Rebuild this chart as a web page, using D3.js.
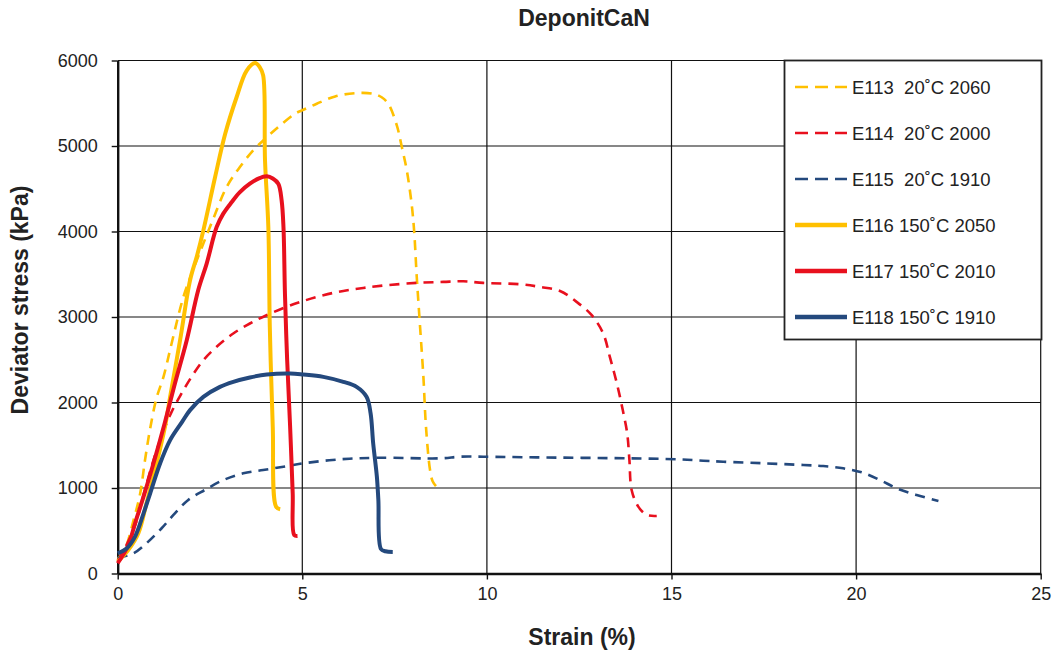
<!DOCTYPE html>
<html>
<head>
<meta charset="utf-8">
<script src="https://cdn.jsdelivr.net/npm/d3@7"></script>
<style>
  body { margin: 0; background: #fff; }
  text { font-family: "Liberation Sans", Arial, sans-serif; fill: #222; }
  .row text { white-space: pre; }
</style>
</head>
<body>
<div class="chart"></div>
<script>
// strain (%) / deviator stress (kPa)
const e113 = [[0,170],[0.2,290],[0.43,626],[0.61,938],[0.74,1327],[0.88,1697],[1.05,2050],[1.24,2300],[1.46,2690],[1.78,3235],[2.05,3560],[2.32,3859],[2.59,4150],[2.95,4520],[3.31,4754],[3.67,4949],[4.04,5104],[4.40,5241],[4.80,5377],[5.03,5424],[5.39,5494],[5.89,5580],[6.43,5618],[6.92,5611],[7.15,5570],[7.33,5494],[7.56,5241],[7.69,5000],[7.83,4715],[7.96,4326],[8.03,4002],[8.10,3469],[8.19,2884],[8.28,2300],[8.35,1716],[8.46,1210],[8.53,1080],[8.62,1023]];
const e114 = [[0,150],[0.2,300],[0.47,560],[0.70,920],[0.97,1327],[1.2,1620],[1.46,1891],[1.73,2106],[2.0,2300],[2.32,2495],[2.68,2651],[3.13,2807],[3.58,2924],[4.03,3021],[4.57,3118],[5.03,3188],[5.57,3255],[6.11,3305],[6.65,3340],[7.29,3372],[8.10,3399],[8.82,3411],[9.36,3418],[9.90,3399],[10.9,3383],[11.44,3352],[11.98,3305],[12.43,3177],[12.84,3021],[13.15,2807],[13.33,2534],[13.52,2223],[13.68,1911],[13.80,1639],[13.86,1327],[13.92,977],[14.1,782],[14.33,685],[14.6,673]];
const e115 = [[0,180],[0.43,237],[0.78,354],[1.19,529],[1.51,685],[1.91,860],[2.36,977],[2.86,1093],[3.40,1172],[3.94,1210],[4.49,1249],[5.03,1289],[6.02,1335],[7.1,1354],[8.74,1347],[9.27,1366],[9.9,1366],[11.35,1358],[13.79,1347],[15.23,1335],[15.86,1319],[16.40,1307],[17.49,1289],[18.57,1269],[19.11,1257],[19.65,1230],[20.15,1183],[20.65,1093],[21.10,996],[21.64,918],[22.23,848]];
const e116 = [[0,139],[0.29,276],[0.56,471],[0.78,821],[1.01,1210],[1.28,1716],[1.42,2067],[1.69,2729],[1.96,3430],[2.15,3720],[2.32,4013],[2.64,4640],[2.91,5140],[3.22,5570],[3.49,5880],[3.72,5970],[3.85,5920],[3.94,5825],[3.99,4832],[4.08,4052],[4.12,2884],[4.20,1716],[4.29,782],[4.40,751]];
const e117 = [[0,120],[0.29,334],[0.47,588],[0.70,899],[0.97,1289],[1.28,1770],[1.55,2223],[1.87,2729],[2.18,3313],[2.41,3625],[2.68,4052],[2.86,4209],[3.09,4345],[3.31,4461],[3.58,4559],[3.81,4618],[4.04,4645],[4.2,4620],[4.35,4559],[4.44,4364],[4.49,4052],[4.53,3275],[4.59,2495],[4.67,1716],[4.74,938],[4.78,451],[4.87,439]];
const e118 = [[0,237],[0.25,296],[0.47,431],[0.70,704],[0.88,938],[1.15,1289],[1.42,1560],[1.74,1770],[1.96,1911],[2.32,2066],[2.77,2183],[3.13,2242],[3.58,2293],[4.04,2328],[4.67,2340],[5.03,2328],[5.57,2300],[6.11,2242],[6.47,2183],[6.74,2067],[6.85,1873],[6.92,1522],[7.02,1132],[7.06,860],[7.13,287],[7.25,260],[7.45,252]];

const seriesNames = ["E113  20˚C 2060", "E114  20˚C 2000", "E115  20˚C 1910", "E116 150˚C 2050", "E117 150˚C 2010", "E118 150˚C 1910"];
const seriesData = [e113, e114, e115, e116, e117, e118];
const seriesColors = ["#FFC000", "#E8101E", "#24497D", "#FFC000", "#E8101E", "#24497D"];
const seriesDashed = [true, true, true, false, false, false];

const xTicks = [0, 5, 10, 15, 20, 25];
const yTicks = [0, 1000, 2000, 3000, 4000, 5000, 6000];

const title = "DeponitCaN";
const xTitle = "Strain (%)";
const yTitle = "Deviator stress (kPa)";

const svgWidth = 1054, svgHeight = 655;
const plotLeft = 117.7, plotRight = 1040.7, plotTop = 60.5, plotBottom = 573.5;

const x = d3.scaleLinear().domain([0, 25]).range([plotLeft, plotRight]);
const y = d3.scaleLinear().domain([0, 6000]).range([plotBottom, plotTop]);

let svg = d3.select(".chart").append("svg")
    .attr("width", svgWidth)
    .attr("height", svgHeight);

// gridlines
svg.append("g")
    .selectAll("line")
    .data(yTicks.slice(1))
    .join("line")
    .attr("x1", plotLeft).attr("x2", plotRight)
    .attr("y1", d => y(d)).attr("y2", d => y(d))
    .attr("stroke", "#111").attr("stroke-width", 1.2);
svg.append("g")
    .selectAll("line")
    .data(xTicks.slice(1))
    .join("line")
    .attr("x1", d => x(d)).attr("x2", d => x(d))
    .attr("y1", plotTop).attr("y2", plotBottom)
    .attr("stroke", "#111").attr("stroke-width", 1.2);

// axes
const xAxis = svg.append("g")
    .attr("transform", `translate(0,${plotBottom})`)
    .call(d3.axisBottom(x).tickValues(xTicks).tickFormat(d3.format("d"))
        .tickSize(6).tickPadding(8).tickSizeOuter(0));
const yAxis = svg.append("g")
    .attr("transform", `translate(${plotLeft},0)`)
    .call(d3.axisLeft(y).tickValues(yTicks).tickFormat(d3.format("d"))
        .tickSize(6).tickPadding(14).tickSizeOuter(0));
[xAxis, yAxis].forEach(a => {
    a.select(".domain").attr("stroke", "#111").attr("stroke-width", 2.4);
    a.selectAll(".tick line").attr("stroke", "#111").attr("stroke-width", 1.4);
    a.selectAll("text").attr("font-size", 18).attr("fill", "#222")
        .attr("font-family", '"Liberation Sans", Arial, sans-serif');
});

// curves
const line = d3.line()
    .x(d => x(d[0]))
    .y(d => y(d[1]))
    .curve(d3.curveCatmullRom.alpha(0.5));

svg.append("g")
    .selectAll("path")
    .data(seriesData)
    .join("path")
    .attr("d", d => line(d))
    .attr("fill", "none")
    .attr("stroke", (d, i) => seriesColors[i])
    .attr("stroke-width", (d, i) => seriesDashed[i] ? 2.6 : 4)
    .attr("stroke-dasharray", (d, i) => seriesDashed[i] ? "10,7" : null)
    .attr("stroke-linejoin", "round");

// legend
const legend = svg.append("g");
legend.append("rect")
    .attr("x", 784.5).attr("y", 60.5)
    .attr("width", 257).attr("height", 279)
    .attr("fill", "#fff").attr("stroke", "#222").attr("stroke-width", 1.8);
const rows = legend.selectAll("g.row")
    .data(seriesNames)
    .join("g")
    .attr("class", "row")
    .attr("transform", (d, i) => `translate(0,${87 + i * 46})`);
rows.append("line")
    .attr("x1", 795).attr("x2", 847)
    .attr("stroke", (d, i) => seriesColors[i])
    .attr("stroke-width", (d, i) => seriesDashed[i] ? 2.6 : 4.5)
    .attr("stroke-dasharray", (d, i) => seriesDashed[i] ? "13,7" : null);
rows.append("text")
    .attr("x", 852).attr("y", 6.5)
    .attr("font-size", 18.5)
    .attr("xml:space", "preserve")
    .text(d => d);

// titles
svg.append("text")
    .attr("x", 584).attr("y", 26)
    .attr("text-anchor", "middle")
    .attr("font-size", 23).attr("font-weight", "bold")
    .text(title);
svg.append("text")
    .attr("x", 582).attr("y", 645)
    .attr("text-anchor", "middle")
    .attr("font-size", 23).attr("font-weight", "bold")
    .text(xTitle);
svg.append("text")
    .attr("transform", "translate(28,300) rotate(-90)")
    .attr("text-anchor", "middle")
    .attr("font-size", 23).attr("font-weight", "bold")
    .text(yTitle);
</script>
</body>
</html>
